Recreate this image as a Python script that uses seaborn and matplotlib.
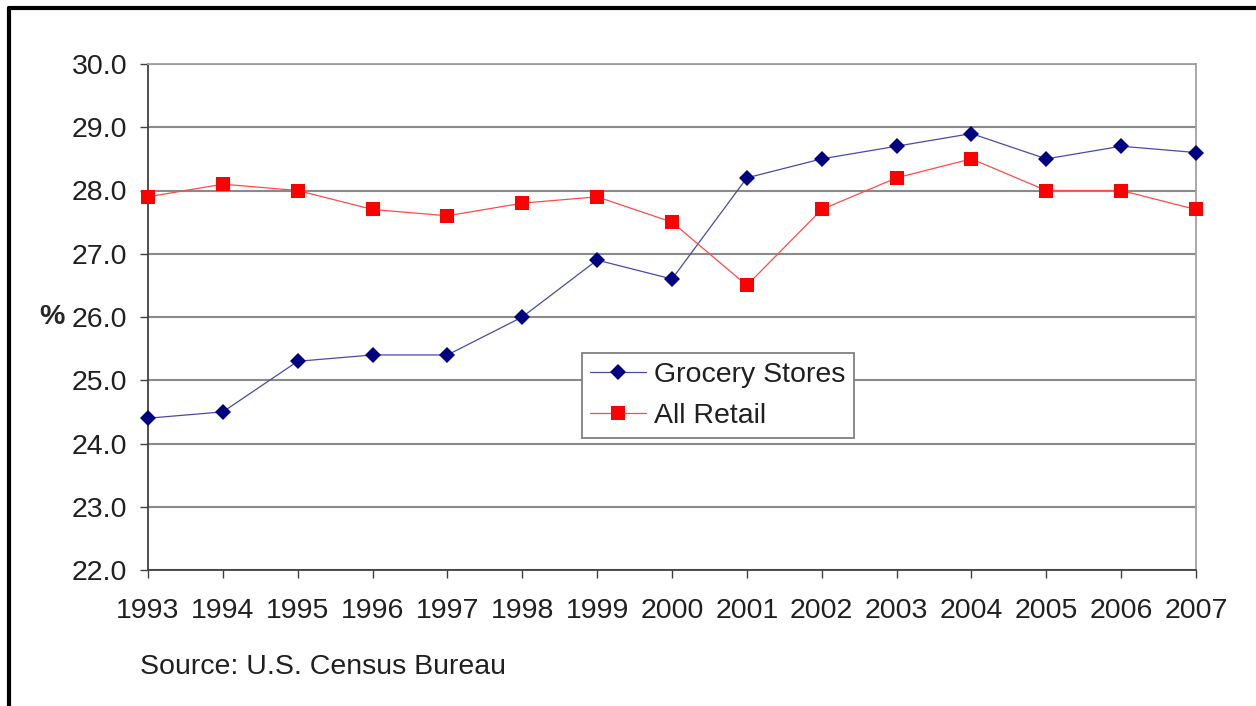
import pandas as pd
import matplotlib.pyplot as plt
import seaborn as sns
from matplotlib.lines import Line2D

# Datos
years = list(range(1993, 2008))
grocery = [24.4, 24.5, 25.3, 25.4, 25.4, 26.0, 26.9, 26.6, 28.2, 28.5, 28.7, 28.9, 28.5, 28.7, 28.6]
retail = [27.9, 28.1, 28.0, 27.7, 27.6, 27.8, 27.9, 27.5, 26.5, 27.7, 28.2, 28.5, 28.0, 28.0, 27.7]
series_names = ["Grocery Stores", "All Retail"]
y_ticks = [22.0, 23.0, 24.0, 25.0, 26.0, 27.0, 28.0, 29.0, 30.0]

df = pd.DataFrame({
    "Year": years * 2,
    "Value": grocery + retail,
    "Series": [series_names[0]] * len(years) + [series_names[1]] * len(years),
})

sns.set_style("white")
plt.rcParams["font.family"] = ["Liberation Sans", "DejaVu Sans"]

fs = 20.5
marker_cols = ["#000080", "#ff0000"]
line_cols = ["#4a4aa8", "#ff4a4a"]
fig = plt.figure(figsize=(12.56, 7.06), dpi=100)
ax = fig.add_axes([148 / 1256, 1 - 570 / 706, 1048 / 1256, 506 / 706])

sns.lineplot(
    data=df, x="Year", y="Value", hue="Series", style="Series",
    palette={"Grocery Stores": marker_cols[0], "All Retail": marker_cols[1]},
    markers={"Grocery Stores": "D", "All Retail": "s"},
    dashes=False, linewidth=0.9, markersize=9, markeredgewidth=0,
    ax=ax, legend=False,
)
ax.lines[0].set_markersize(8)
ax.lines[1].set_markersize(10)
for ln, lc, mc in zip(ax.lines, line_cols, marker_cols):
    ln.set_color(lc)
    ln.set_markerfacecolor(mc)
    ln.set_markeredgecolor(mc)
    ln.set_clip_on(False)
    ln.set_zorder(5)

ax.set_xlim(1993, 2007)
ax.set_ylim(22, 30)
ax.set_xticks(years)
ax.set_xticklabels([str(y) for y in years])
ax.set_yticks(y_ticks)
ax.set_yticklabels([f"{v:.1f}" for v in y_ticks])
ax.tick_params(axis="both", labelsize=fs, colors="#202020", length=6, width=1,
               direction="out", left=True, bottom=True, color="#404040")
ax.tick_params(axis="x", pad=14)
ax.tick_params(axis="y", pad=9)
ax.grid(axis="y", color="#8a8a8a", linewidth=1.5)
ax.grid(axis="x", visible=False)
ax.set_axisbelow(True)
for side in ["top", "right"]:
    ax.spines[side].set_color("#a0a0a0")
    ax.spines[side].set_linewidth(1.3)
for side in ["left", "bottom"]:
    ax.spines[side].set_color("#404040")
    ax.spines[side].set_linewidth(1.3)
ax.spines["top"].set_visible(True)
ax.spines["right"].set_visible(True)

ax.set_xlabel("")
ax.set_ylabel("%", fontsize=fs, fontweight="bold", rotation=0, labelpad=14, va="center")

handles = [
    Line2D([], [], color=line_cols[0], marker="D", markersize=8, linewidth=0.9,
           markeredgewidth=0, markerfacecolor=marker_cols[0]),
    Line2D([], [], color=line_cols[1], marker="s", markersize=10, linewidth=0.9,
           markeredgewidth=0, markerfacecolor=marker_cols[1]),
]
leg = ax.legend(handles, series_names, loc="lower left", bbox_to_anchor=(0.414, 0.261),
                fontsize=fs, frameon=True, fancybox=False, framealpha=1,
                edgecolor="#808080", handlelength=1.95, borderpad=0.3,
                labelspacing=0.55, handletextpad=0.3, borderaxespad=0)
leg.get_frame().set_linewidth(1.3)
for t in leg.get_texts():
    t.set_color("#202020")

fig.text(140 / 1256, 1 - 667 / 706, "Source: U.S. Census Bureau", fontsize=fs,
         color="#202020", va="center", ha="left")

# marco negro de la figura (izquierda y arriba)
fig.add_artist(Line2D([9 / 1256, 9 / 1256], [0, 1 - 8 / 706], color="black", linewidth=3,
                      transform=fig.transFigure))
fig.add_artist(Line2D([9 / 1256, 1], [1 - 8 / 706, 1 - 8 / 706], color="black", linewidth=3,
                      transform=fig.transFigure))

fig.savefig("out.png", dpi=100)
